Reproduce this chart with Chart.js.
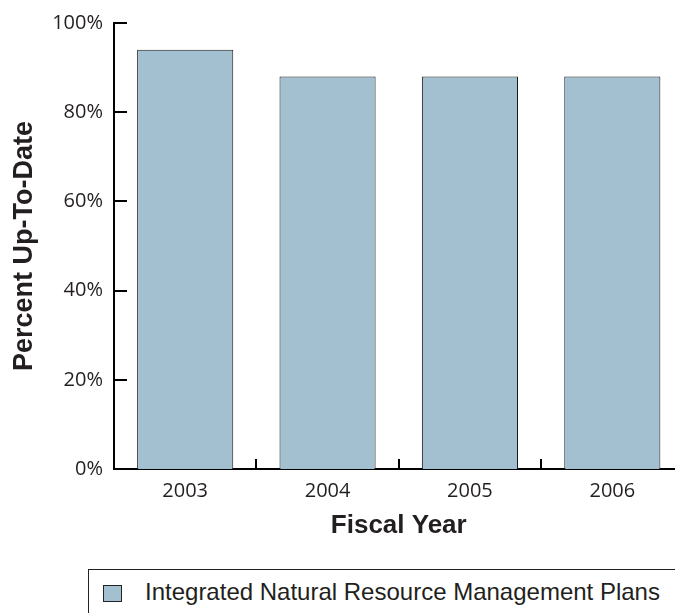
<!DOCTYPE html>
<html>
<head>
<meta charset="utf-8">
<script src="https://cdn.jsdelivr.net/npm/chart.js@4/dist/chart.umd.min.js"></script>
<style>
  body { margin: 0; width: 675px; height: 613px; overflow: hidden; background: #fff; position: relative; }
  #wrap { position: absolute; left: 0; top: 0; width: 700px; height: 545px; }
  #legend { position: absolute; left: 88px; top: 569px; width: 700px; height: 60px;
            border: 1px solid #222; box-sizing: border-box; }
  #legend .swatch { position: absolute; left: 14px; top: 15px; width: 17px; height: 15px;
            border: 1px solid #222; }
  #legend .text { position: absolute; left: 56px; top: 8px; font: 24px "Liberation Sans", Arial, sans-serif;
            color: #231f20; white-space: nowrap; }
</style>
</head>
<body>
<div id="wrap"><canvas id="chartCanvas" width="700" height="545"></canvas></div>
<div id="legend"><div class="swatch"></div><div class="text"></div></div>
<script>
// Data
var fiscalYears = ['2003', '2004', '2005', '2006'];
var percentUpToDate = [94, 88, 88, 88];
var seriesName = 'Integrated Natural Resource Management Plans';
var yTicks = [0, 20, 40, 60, 80, 100];

var barColor = '#a3c0d0';
var inkColor = '#231f20';

// legend (html, the box runs off the right edge like the original)
document.querySelector('#legend .swatch').style.background = barColor;
document.querySelector('#legend .text').textContent = seriesName;

// short ticks drawn inside the plot, y at each step and x between the categories
var innerTicks = {
    id: 'innerTicks',
    afterDraw: function (chart) {
        var ctx = chart.ctx;
        var xs = chart.scales.x;
        var ys = chart.scales.y;
        ctx.save();
        ctx.strokeStyle = '#000';
        ctx.lineWidth = 2;
        ctx.beginPath();
        yTicks.forEach(function (v) {
            var py = Math.round(ys.getPixelForValue(v));
            ctx.moveTo(xs.left, py);
            ctx.lineTo(xs.left + 13, py);
        });
        for (var i = 1; i < fiscalYears.length; i++) {
            var px = Math.round((xs.getPixelForValue(i - 1) + xs.getPixelForValue(i)) / 2);
            ctx.moveTo(px, ys.bottom);
            ctx.lineTo(px, ys.bottom - 10);
        }
        ctx.stroke();
        ctx.restore();
    }
};

function drawGraph(chartContextId) {
    var ctx = document.getElementById(chartContextId);

    new Chart(ctx, {
        type: 'bar',
        data: {
            labels: fiscalYears,
            datasets: [{
                label: seriesName,
                data: percentUpToDate,
                backgroundColor: barColor,
                borderColor: '#1a1a1a',
                borderWidth: 1,
                categoryPercentage: 1,
                barPercentage: 0.675
            }]
        },
        options: {
            responsive: false,
            animation: false,
            layout: { padding: { top: 21, right: 16.5, left: 0, bottom: 4 } },
            plugins: {
                legend: { display: false },
                tooltip: { enabled: false }
            },
            scales: {
                x: {
                    grid: { display: false, drawTicks: false },
                    border: { display: true, color: '#000', width: 2 },
                    ticks: {
                        padding: 10,
                        color: inkColor,
                        font: { family: '"Open Sans", "Noto Sans", sans-serif', size: 20 }
                    },
                    title: {
                        display: true,
                        text: 'Fiscal Year',
                        color: inkColor,
                        padding: 0,
                        font: { family: '"Liberation Sans", Arial, sans-serif', size: 26, weight: 'bold' }
                    },
                    afterFit: function (scale) { scale.height = 72; }
                },
                y: {
                    min: 0,
                    max: 100,
                    afterBuildTicks: function (scale) {
                        scale.ticks = yTicks.map(function (v) { return { value: v }; });
                    },
                    grid: { display: false, drawTicks: false },
                    border: { display: true, color: '#000', width: 2 },
                    ticks: {
                        padding: 11,
                        color: inkColor,
                        font: { family: '"Open Sans", "Noto Sans", sans-serif', size: 20 },
                        callback: function (v) { return v + '%'; }
                    },
                    title: {
                        display: true,
                        text: 'Percent Up-To-Date',
                        color: inkColor,
                        padding: { top: 8, bottom: 0 },
                        font: { family: '"Liberation Sans", Arial, sans-serif', size: 27, weight: 'bold' }
                    },
                    afterFit: function (scale) { scale.width = 114; }
                }
            }
        },
        plugins: [innerTicks]
    });
}

drawGraph('chartCanvas');
</script>
</body>
</html>
